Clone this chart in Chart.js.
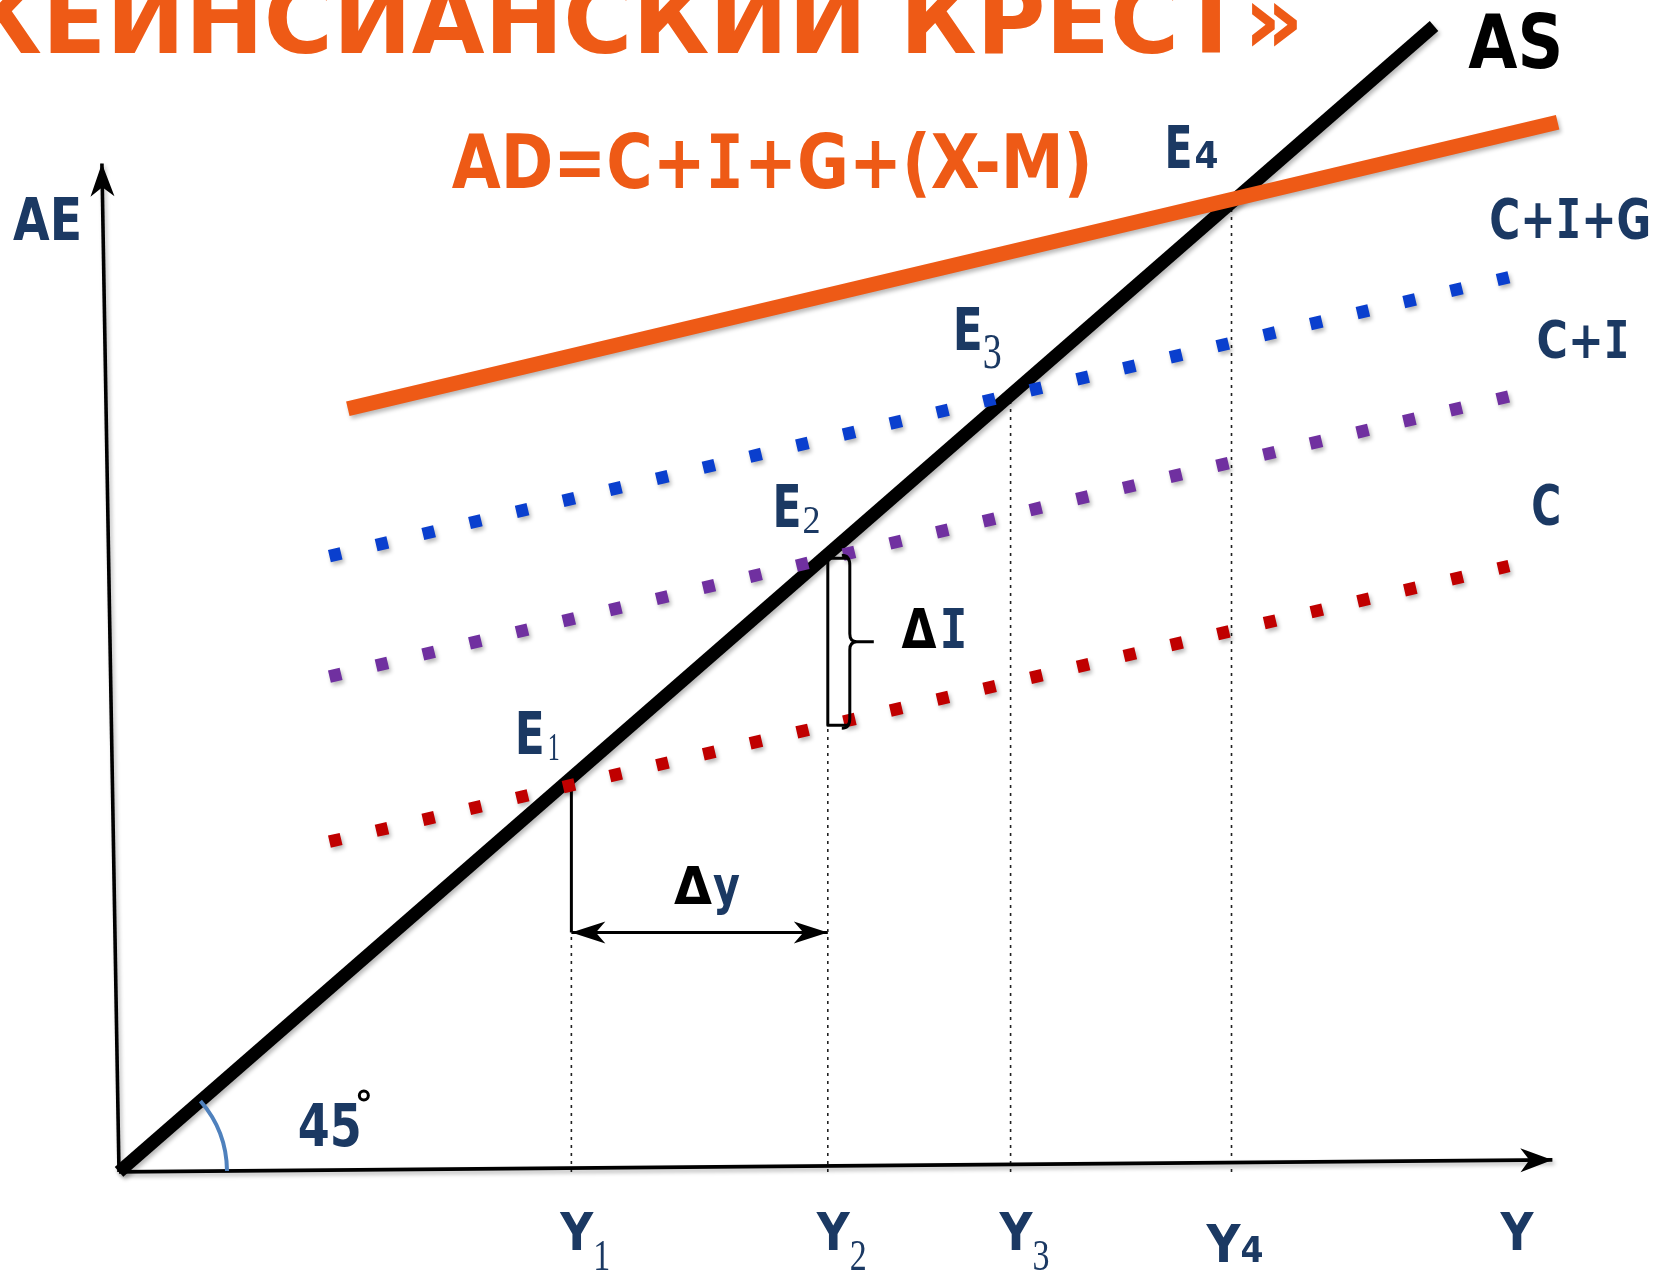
<!DOCTYPE html>
<html>
<head>
<meta charset="utf-8">
<script src="https://cdn.jsdelivr.net/npm/chart.js@4.4.1/dist/chart.umd.min.js"></script>
<style>
  html, body { margin: 0; padding: 0; background: #fff; }
  canvas { display: block; }
</style>
</head>
<body>
<canvas id="canvas" width="1656" height="1272"></canvas>
<script>
// Keynesian cross: income Y on x, aggregate expenditure AE on y (AS is the 45 degree line)
let asLine = [[0, 0], [100, 100]];
let adLine = [[17.4, 66.6], [109.4, 91.6]];     // AD = C+I+G+(X-M)
let cigLine = [[16.0, 53.74], [105.7, 78.08]];  // C+I+G
let ciLine = [[16.0, 43.22], [105.7, 67.68]];   // C+I
let cLine = [[16.0, 28.82], [105.7, 52.88]];    // C

let yTicks = [34.4, 53.9, 67.8, 84.6, 105.9];
let yTickMain = ['Y', 'Y', 'Y', 'Y', 'Y'];
let yTickSub = ['1', '2', '3', '4', ''];
let deltaYLevel = 20.9;

let xAxisLine = [[0, 0], [109, 1.05]];
let yAxisLine = [[0, 0], [-1.3, 88]];

const NAVY = '#1b3963';
const ORANGE = '#ee5a16';

// value of a straight line at x
function lineAt(line, x) {
    let a = line[0], b = line[1];
    return a[1] + (b[1] - a[1]) * (x - a[0]) / (b[0] - a[0]);
}

function seg(points, color, width, dash, shadow) {
    return {
        data: points.map(p => ({x: p[0], y: p[1]})),
        showLine: true,
        borderColor: color,
        borderWidth: width,
        borderDash: dash || [],
        borderCapStyle: 'butt',
        pointRadius: 0,
        fill: false,
        shadow: !!shadow
    };
}

let dotted = [12, 36];
let datasets = [
    seg(adLine, ORANGE, 15, null, true),
    seg(cigLine, '#0a3fce', 12.5, dotted, true),
    seg(ciLine, '#7030a0', 12.5, dotted, true),
    seg(cLine, '#c00000', 12.5, dotted, true),
    seg(asLine, '#000', 13, null, true),
    seg(xAxisLine, '#000', 3.8, null, true),
    seg(yAxisLine, '#000', 3.6, null, true)
];

// dotted drop lines from the equilibria down to the Y axis
let tops = [deltaYLevel, lineAt(cLine, yTicks[1]), lineAt(asLine, yTicks[2]), lineAt(adLine, yTicks[3])];
for (let i = 0; i < 4; i++) {
    datasets.push(seg([[yTicks[i], 0], [yTicks[i], tops[i]]], '#222', 1.6, [3, 5]));
}
datasets.push(seg([[yTicks[0], deltaYLevel], [yTicks[0], lineAt(cLine, yTicks[0])]], '#000', 3));
datasets.push(seg([[yTicks[0], deltaYLevel], [yTicks[1], deltaYLevel]], '#000', 3));

const sans = s => 'bold ' + s + 'px "DejaVu Sans"';
const mono = s => 'bold ' + s + 'px "DejaVu Sans Mono"';
const serif = s => s + 'px "Liberation Serif"';

let labels = [
    {x: 25.3, y: 85.9, w: 641, parts: [
        {t: 'AD=C+', f: sans(74), c: ORANGE}, {t: 'I', f: mono(74), c: ORANGE}, {t: '+G+(X-M)', f: sans(74), c: ORANGE}]},
    {x: 102.6, y: 96.3, w: 95, parts: [{t: 'AS', f: sans(75), c: '#000'}]},
    {x: 79.5, y: 87.6, parts: [{t: 'E', f: sans(59), c: NAVY, w: 28}, {t: '4', f: sans(37), c: NAVY, w: 24, dx: 2}]},
    {x: -8.06, y: 81.3, w: 69, parts: [{t: 'AE', f: sans(59), c: NAVY}]},
    {x: 104.2, y: 81.5, w: 162, parts: [
        {t: 'C+', f: sans(55), c: NAVY}, {t: 'I', f: mono(55), c: NAVY}, {t: '+G', f: sans(55), c: NAVY}]},
    {x: 107.8, y: 71.0, w: 93, parts: [{t: 'C+', f: sans(52), c: NAVY}, {t: 'I', f: mono(52), c: NAVY}]},
    {x: 107.4, y: 56.5, w: 30, parts: [{t: 'C', f: sans(55), c: NAVY}]},
    {x: 63.4, y: 71.7, parts: [{t: 'E', f: sans(59), c: NAVY, w: 30}, {t: '3', f: serif(50), c: NAVY, w: 19, dy: 18}]},
    {x: 49.7, y: 56.3, parts: [{t: 'E', f: sans(59), c: NAVY, w: 29}, {t: '2', f: serif(40), c: NAVY, w: 18, dy: 6, dx: 1}]},
    {x: 30.1, y: 36.5, parts: [{t: 'E', f: sans(59), c: NAVY, w: 30}, {t: '1', f: serif(40), c: NAVY, w: 12, dy: 6, dx: 3}]},
    {x: 59.5, y: 45.7, parts: [{t: '\u0394', f: sans(55), c: '#000', w: 35}, {t: 'I', f: mono(55), c: NAVY, w: 28, dx: 3}]},
    {x: 42.2, y: 23.4, parts: [{t: '\u0394', f: sans(52), c: '#000', w: 38}, {t: 'y', f: sans(54), c: NAVY, w: 27, dx: 1}]},
    {x: 13.6, y: 2.3, w: 64, parts: [{t: '45', f: sans(59), c: NAVY}]}
];

// draws a run of text parts; label width w scales the whole run, part width w scales one part
function run(ctx, x, y, parts, w) {
    let widths = parts.map(p => { ctx.font = p.f; return ctx.measureText(p.t).width; });
    let common = w ? w / widths.reduce((s, v) => s + v, 0) : 1;
    let cx = x;
    parts.forEach((p, i) => {
        ctx.font = p.f;
        ctx.fillStyle = p.c;
        let sx = p.w ? p.w / widths[i] : common;
        cx += p.dx || 0;
        ctx.save();
        ctx.translate(cx, y + (p.dy || 0));
        ctx.scale(sx, 1);
        ctx.fillText(p.t, 0, 0);
        ctx.restore();
        cx += widths[i] * sx;
    });
}

function arrowHead(ctx, x0, y0, x1, y1, len, half) {
    let a = Math.atan2(y1 - y0, x1 - x0);
    ctx.save();
    ctx.translate(x1, y1);
    ctx.rotate(a);
    ctx.beginPath();
    ctx.moveTo(0, 0);
    ctx.lineTo(-len, -half);
    ctx.lineTo(-len * 0.72, 0);
    ctx.lineTo(-len, half);
    ctx.closePath();
    ctx.fillStyle = '#000';
    ctx.fill();
    ctx.restore();
}

let shadows = {
    id: 'shadows',
    beforeDatasetDraw(chart, args) {
        if (!chart.data.datasets[args.index].shadow) return;
        let ctx = chart.ctx;
        ctx.save();
        ctx.shadowColor = 'rgba(0,0,0,0.28)';
        ctx.shadowBlur = 4;
        ctx.shadowOffsetX = 2;
        ctx.shadowOffsetY = 3;
    },
    afterDatasetDraw(chart, args) {
        if (chart.data.datasets[args.index].shadow) chart.ctx.restore();
    }
};

let decorations = {
    id: 'decorations',
    afterDatasetsDraw(chart) {
        let ctx = chart.ctx;
        let X = v => chart.scales.x.getPixelForValue(v);
        let Y = v => chart.scales.y.getPixelForValue(v);
        ctx.save();

        // axis arrows
        arrowHead(ctx, X(xAxisLine[0][0]), Y(xAxisLine[0][1]), X(xAxisLine[1][0]), Y(xAxisLine[1][1]), 32, 12);
        arrowHead(ctx, X(yAxisLine[0][0]), Y(yAxisLine[0][1]), X(yAxisLine[1][0]), Y(yAxisLine[1][1]), 33, 12);

        // delta Y double arrow heads
        let ay = Y(deltaYLevel);
        arrowHead(ctx, X(yTicks[1]), ay, X(yTicks[0]), ay, 34, 11);
        arrowHead(ctx, X(yTicks[0]), ay, X(yTicks[1]), ay, 34, 11);

        // 45 degree arc
        let ox = X(0), oy = Y(0);
        let a0 = Math.atan2(Y(asLine[1][1]) - oy, X(asLine[1][0]) - ox);
        let a1 = Math.atan2(Y(xAxisLine[1][1]) - oy, X(xAxisLine[1][0]) - ox);
        ctx.beginPath();
        ctx.arc(ox, oy, 108, a0, a1);
        ctx.strokeStyle = '#4f81bd';
        ctx.lineWidth = 4;
        ctx.stroke();

        // delta I bracket between C and C+I at Y2
        let xb = X(yTicks[1]);
        let top = Y(lineAt(ciLine, yTicks[1]));
        let bot = Y(lineAt(cLine, yTicks[1]));
        let mid = (top + bot) / 2;
        ctx.strokeStyle = '#000';
        ctx.lineWidth = 3;
        ctx.lineJoin = 'round';
        ctx.beginPath();
        ctx.moveTo(xb + 20, top);
        ctx.lineTo(xb, top);
        ctx.lineTo(xb, bot);
        ctx.lineTo(xb + 20, bot);
        ctx.stroke();
        ctx.beginPath();
        ctx.moveTo(xb + 14, top - 3);
        ctx.quadraticCurveTo(xb + 22, top - 3, xb + 22, top + 7);
        ctx.lineTo(xb + 22, mid - 8);
        ctx.quadraticCurveTo(xb + 22, mid, xb + 29, mid);
        ctx.lineTo(xb + 46, mid);
        ctx.moveTo(xb + 29, mid);
        ctx.quadraticCurveTo(xb + 22, mid, xb + 22, mid + 8);
        ctx.lineTo(xb + 22, bot - 7);
        ctx.quadraticCurveTo(xb + 22, bot + 3, xb + 14, bot + 3);
        ctx.stroke();

        // text labels
        ctx.textBaseline = 'alphabetic';
        ctx.textAlign = 'left';
        labels.forEach(l => run(ctx, X(l.x), Y(l.y), l.parts, l.w));

        // degree sign after 45
        ctx.beginPath();
        ctx.arc(X(13.6) + 66, Y(2.3) - 50, 4.5, 0, Math.PI * 2);
        ctx.lineWidth = 3;
        ctx.strokeStyle = '#000';
        ctx.stroke();

        // tick labels under the Y axis
        for (let i = 0; i < yTicks.length; i++) {
            let tx = X(yTicks[i]) - (i == 3 ? 25 : 11);
            if (yTickSub[i] == '4') {
                run(ctx, tx, Y(-7.85), [{t: yTickMain[i], f: sans(52), c: NAVY, w: 34}, {t: yTickSub[i], f: sans(35), c: NAVY, w: 23}]);
            } else {
                run(ctx, tx, Y(-6.8), [{t: yTickMain[i], f: sans(52), c: NAVY, w: 33}, {t: yTickSub[i], f: serif(44), c: NAVY, w: 17, dy: 20}]);
            }
        }

        // slide title, cut by the top and left edges
        let title = '\u00ABКЕЙНСИАНСКИЙ КРЕСТ\u00BB';
        ctx.font = sans(96);
        let full = ctx.measureText(title).width;
        let pre = ctx.measureText('\u00ABК').width;
        let sx = (1304 - 42) / (full - pre);
        ctx.save();
        ctx.translate(42 - pre * sx, 53);
        ctx.scale(sx, 1);
        ctx.fillStyle = ORANGE;
        ctx.fillText(title, 0, 0);
        ctx.restore();

        ctx.restore();
    }
};

let chart = new Chart(document.getElementById('canvas'), {
    type: 'scatter',
    data: {datasets: datasets},
    options: {
        responsive: false,
        animation: false,
        events: [],
        layout: {padding: 0},
        scales: {
            x: {type: 'linear', min: -9.05, max: 116.88, display: false},
            y: {type: 'linear', min: -8.73, max: 102.27, display: false}
        },
        plugins: {
            legend: {display: false},
            tooltip: {enabled: false}
        }
    },
    plugins: [shadows, decorations]
});
</script>
</body>
</html>
